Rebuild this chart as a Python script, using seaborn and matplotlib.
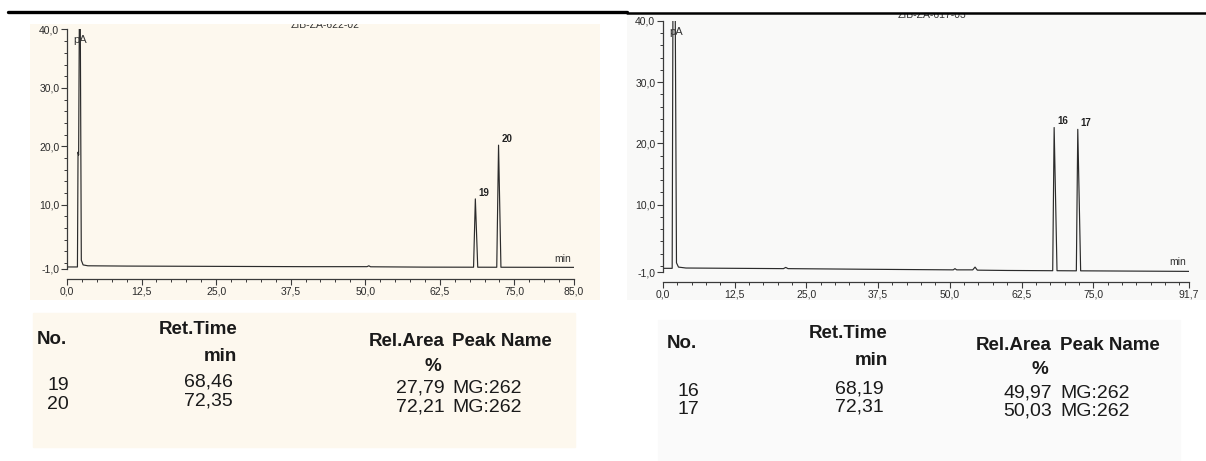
import matplotlib
matplotlib.use("Agg")
import matplotlib.pyplot as plt
from matplotlib.lines import Line2D
from matplotlib.ticker import FixedLocator
import numpy as np
import pandas as pd
import seaborn as sns

# ---- chromatogram ZIB-ZA-622-02 ----
left_title = "ZIB-ZA-622-02"
left_peak_no = [19, 20]
left_ret_time = [68.46, 72.35]
left_rel_area = [27.79, 72.21]
left_peak_height = [11.0, 20.2]
left_peak_name = ["MG:262", "MG:262"]
left_base_time = [0.0, 1.75, 1.85, 1.95, 2.1, 2.2, 2.4, 2.7, 3.5, 10.0, 25.0, 40.0,
                  50.3, 50.6, 50.9, 60.0, 85.0]
left_base_signal = [-0.65, -0.65, 19.0, 18.5, 48.0, 48.0, 0.5, -0.3, -0.45, -0.5, -0.55, -0.6,
                    -0.6, -0.45, -0.62, -0.68, -0.72]
left_xmax = 85.0
left_xticks = [0.0, 12.5, 25.0, 37.5, 50.0, 62.5, 75.0, 85.0]

# ---- chromatogram ZIB-ZA-617-03 ----
right_title = "ZIB-ZA-617-03"
right_peak_no = [16, 17]
right_ret_time = [68.19, 72.31]
right_rel_area = [49.97, 50.03]
right_peak_height = [22.6, 22.3]
right_peak_name = ["MG:262", "MG:262"]
right_base_time = [0.0, 1.6, 1.75, 2.1, 2.35, 2.7, 4.0, 21.0, 21.4, 21.8, 35.0,
                   50.6, 50.9, 51.2, 54.0, 54.4, 54.8, 60.0, 91.7]
right_base_signal = [-0.4, -0.4, 48.0, 48.0, 0.5, -0.2, -0.35, -0.45, -0.25, -0.45, -0.55,
                     -0.65, -0.45, -0.65, -0.65, -0.2, -0.7, -0.75, -0.9]
right_xmax = 91.7
right_xticks = [0.0, 12.5, 25.0, 37.5, 50.0, 62.5, 75.0, 91.7]

yticks = [-1.0, 10.0, 20.0, 30.0, 40.0]

sns.set_style("ticks")
plt.rcParams["font.family"] = ["Liberation Sans", "DejaVu Sans"]

W, H = 1206, 461
fig = plt.figure(figsize=(W / 100, H / 100), dpi=100)
fig.patch.set_facecolor("white")


def frac(x, y):
    return x / W, 1 - y / H


def rect(x0, y0, x1, y1):
    return [x0 / W, 1 - y1 / H, (x1 - x0) / W, (y1 - y0) / H]


def comma(v):
    return f"{v:.2f}".replace(".", ",")


def trace(base_t, base_s, rts, heights, lead, tail):
    """Baseline vertices plus a sharp triangular peak at each retention time."""
    pts = list(zip(base_t, base_s))
    for rt, h in zip(rts, heights):
        lvl = float(np.interp(rt, base_t, base_s))
        pts = [p for p in pts if not (rt - lead <= p[0] <= rt + tail)]
        pts += [(rt - lead, lvl), (rt, h), (rt + tail, lvl)]
    pts.sort(key=lambda p: p[0])
    return pd.DataFrame(pts, columns=["time", "signal"])


INK = "#2b2b2b"
AX = "#3a3a3a"


def chromatogram(ax_rect, bg_rect, bg_color, df, xmax, xticks, title, title_xy,
                 rts, heights, labels):
    bg = fig.add_axes(bg_rect)
    bg.set_facecolor(bg_color)
    bg.set_xlim(0, 1)
    bg.set_ylim(0, 1)
    for s in bg.spines.values():
        s.set_visible(False)
    bg.set_xticks([])
    bg.set_yticks([])
    # run title, clipped by the panel edge
    bx, by = bg_rect[0], bg_rect[1]
    tx = (title_xy[0] / W - bx) / bg_rect[2]
    ty = ((1 - title_xy[1] / H) - by) / bg_rect[3]
    bg.text(tx, ty, title, fontsize=7.5, color="#333333", ha="center", va="center",
            clip_on=True)

    ax = fig.add_axes(ax_rect)
    ax.patch.set_alpha(0)
    sns.lineplot(data=df, x="time", y="signal", ax=ax, estimator=None, sort=False,
                 color=INK, linewidth=0.85)
    ax.set_xlim(0, xmax)
    ax.set_ylim(-1, 40)
    ax.set_xlabel("")
    ax.set_ylabel("")
    sns.despine(ax=ax)
    ax.spines["bottom"].set_position(("outward", 7))
    for s in ("left", "bottom"):
        ax.spines[s].set_color(AX)
        ax.spines[s].set_linewidth(0.9)
    ax.yaxis.set_major_locator(FixedLocator(yticks))
    ax.yaxis.set_minor_locator(FixedLocator(np.arange(0, 40, 2)))
    ax.set_yticklabels([f"{v:.1f}".replace(".", ",") for v in yticks])
    ax.xaxis.set_major_locator(FixedLocator(xticks))
    ax.xaxis.set_minor_locator(FixedLocator(np.arange(0, xmax, 2.5)))
    ax.set_xticklabels([f"{v:.1f}".replace(".", ",") for v in xticks])
    ax.tick_params(which="major", length=4, width=0.8, color=AX, labelsize=7.5,
                   labelcolor="#2a2a2a", pad=1.5)
    ax.tick_params(which="minor", length=2.2, width=0.7, color=AX)
    ax.text(0.012, 0.975, "pA", transform=ax.transAxes, fontsize=8, color="#333333",
            ha="left", va="top")
    ax.text(0.962, 0.02, "min", transform=ax.transAxes, fontsize=7.5, color="#333333",
            ha="left", va="bottom")
    for rt, h, lab in zip(rts, heights, labels):
        ax.annotate(str(lab), (rt, h), xytext=(2, 1), textcoords="offset points",
                    fontsize=7, fontweight="bold", color="#222222", ha="left", va="bottom")
    return ax


left_df = trace(left_base_time, left_base_signal, left_ret_time, left_peak_height, 0.3, 0.4)
right_df = trace(right_base_time, right_base_signal, right_ret_time, right_peak_height, 0.25, 0.5)

chromatogram(rect(67, 29.5, 574, 269), rect(30, 24, 600, 300), "#fdf8ee", left_df,
             left_xmax, left_xticks, left_title, (325, 25), left_ret_time, left_peak_height,
             left_peak_no)
chromatogram(rect(663, 21, 1189, 272), rect(627, 13, 1206, 300), "#f9f9f8", right_df,
             right_xmax, right_xticks, right_title, (932, 15), right_ret_time,
             right_peak_height, right_peak_no)

# header rule
fig.add_artist(Line2D([8 / W, 627 / W], [1 - 12 / H, 1 - 12 / H], color="black", lw=2.4))
fig.add_artist(Line2D([627 / W, 1.0], [1 - 13 / H, 1 - 13 / H], color="black", lw=1.8))

# ---- peak tables ----
fig.add_artist(plt.Rectangle((33 / W, 1 - 447 / H), (575 - 33) / W, (447 - 313) / H,
                             transform=fig.transFigure, color="#fdf8ee", zorder=-1))
fig.add_artist(plt.Rectangle((658 / W, 1 - 461 / H), (1180 - 658) / W, (461 - 320) / H,
                             transform=fig.transFigure, color="#fafafa", zorder=-1))

TXT = "#1a1a1a"


def table(x_no, x_rt, x_area, x_name, y_head, rows_y, nos, rts, areas, names,
          dy_rt, dy_area):
    hk = dict(fontsize=13.5, fontweight="bold", color=TXT, va="center")
    dk = dict(fontsize=14, color=TXT, va="center")
    fig.text(*frac(x_no, y_head), "No.", ha="left", **hk)
    fig.text(*frac(x_rt, y_head - 10), "Ret.Time", ha="right", **hk)
    fig.text(*frac(x_rt, y_head + 17), "min", ha="right", **hk)
    fig.text(*frac(x_area, y_head + 2), "Rel.Area", ha="right", **hk)
    fig.text(*frac(x_name, y_head + 2), "Peak Name", ha="left", **hk)
    fig.text(*frac(x_area - 4, y_head + 27), "%", ha="right", **hk)
    for yy, n, rt, a, nm in zip(rows_y, nos, rts, areas, names):
        fig.text(*frac(x_no + 32, yy), str(n), ha="right", **dk)
        fig.text(*frac(x_rt - 4, yy + dy_rt), comma(rt), ha="right", **dk)
        fig.text(*frac(x_area, yy + dy_area), comma(a), ha="right", **dk)
        fig.text(*frac(x_name, yy + dy_area), nm, ha="left", **dk)


table(37, 237, 445, 452, 339, [385, 404], left_peak_no, left_ret_time,
      left_rel_area, left_peak_name, -3, 3)
table(667, 888, 1052, 1060, 343, [391, 409], right_peak_no, right_ret_time,
      right_rel_area, right_peak_name, -2, 2)

fig.savefig("out.png", dpi=100, facecolor="white")
